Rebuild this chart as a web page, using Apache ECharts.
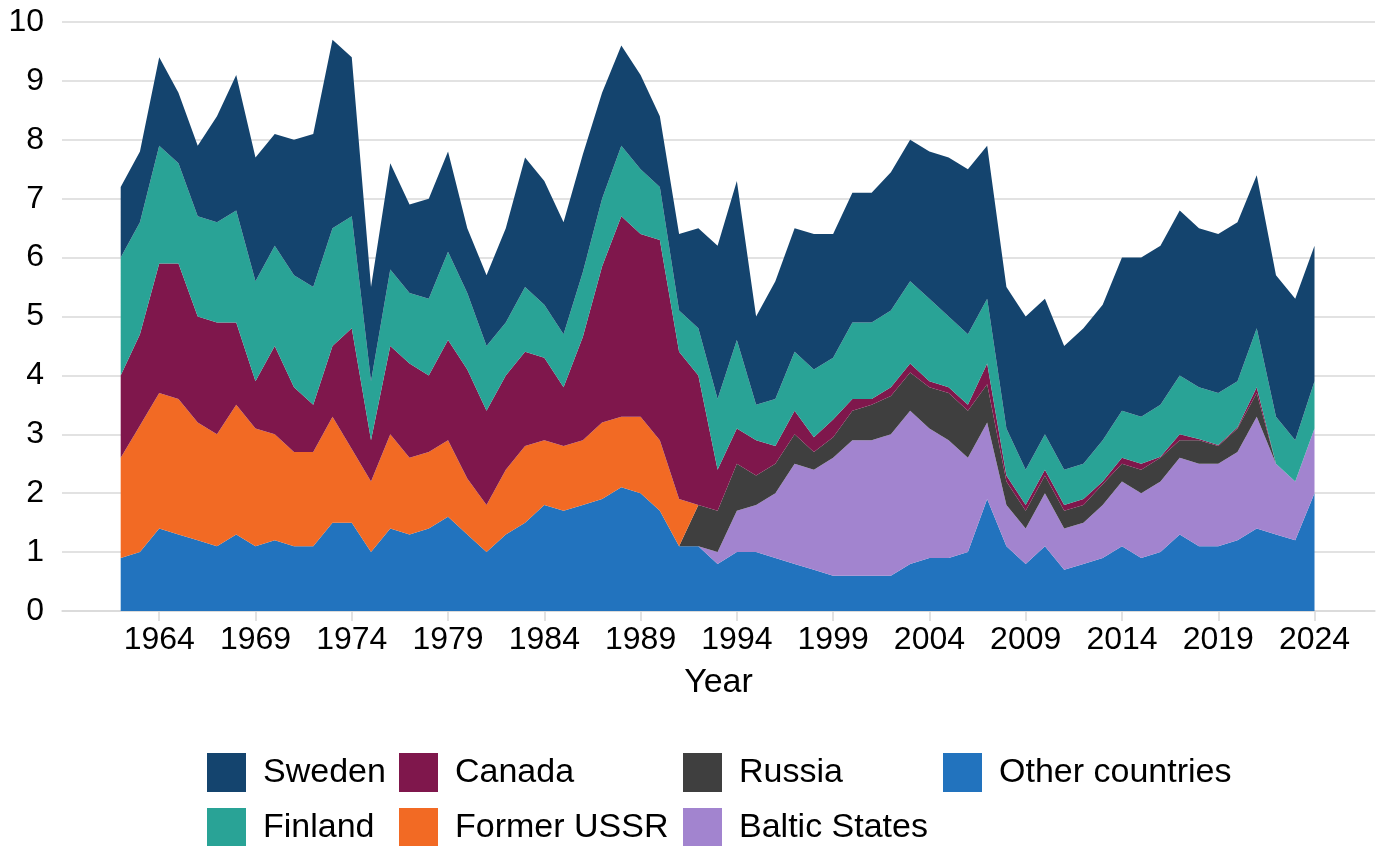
<!DOCTYPE html>
<html>
<head>
<meta charset="utf-8">
<script src="https://cdn.jsdelivr.net/npm/echarts@6/dist/echarts.min.js"></script>
<style>
  html, body { margin: 0; padding: 0; background: #fff; }
  #chart { width: 1382px; height: 846px; }
</style>
</head>
<body>
<div id="chart"></div>
<script>
// years on the x axis
var years = [];
for (var y = 1962; y <= 2024; y++) years.push(String(y));

// x labels shown every 5 years
var yearTicks = [1964, 1969, 1974, 1979, 1984, 1989, 1994, 1999, 2004, 2009, 2014, 2019, 2024];

// series values, 1962..2024
var otherCountries = [0.9, 1.0, 1.4, 1.3, 1.2, 1.1, 1.3, 1.1, 1.2, 1.1,
  1.1, 1.5, 1.5, 1.0, 1.4, 1.3, 1.4, 1.6, 1.3, 1.0,
  1.3, 1.5, 1.8, 1.7, 1.8, 1.9, 2.1, 2.0, 1.7, 1.1,
  1.1, 0.8, 1.0, 1.0, 0.9, 0.8, 0.7, 0.6, 0.6, 0.6,
  0.6, 0.8, 0.9, 0.9, 1.0, 1.9, 1.1, 0.8, 1.1, 0.7,
  0.8, 0.9, 1.1, 0.9, 1.0, 1.3, 1.1, 1.1, 1.2, 1.4,
  1.3, 1.2, 2.0];
var balticStates = [0, 0, 0, 0, 0, 0, 0, 0, 0, 0,
  0, 0, 0, 0, 0, 0, 0, 0, 0, 0,
  0, 0, 0, 0, 0, 0, 0, 0, 0, 0,
  0, 0.2, 0.7, 0.8, 1.1, 1.7, 1.7, 2.0, 2.3, 2.3,
  2.4, 2.6, 2.2, 2.0, 1.6, 1.3, 0.7, 0.6, 0.9, 0.7,
  0.7, 0.9, 1.1, 1.1, 1.2, 1.3, 1.4, 1.4, 1.5, 1.9,
  1.2, 1.0, 1.1];
var russia = [0, 0, 0, 0, 0, 0, 0, 0, 0, 0,
  0, 0, 0, 0, 0, 0, 0, 0, 0, 0,
  0, 0, 0, 0, 0, 0, 0, 0, 0, 0,
  0.7, 0.7, 0.8, 0.5, 0.5, 0.5, 0.3, 0.35, 0.5, 0.6,
  0.65, 0.65, 0.7, 0.8, 0.8, 0.65, 0.4, 0.3, 0.3, 0.3,
  0.3, 0.35, 0.3, 0.4, 0.4, 0.3, 0.4, 0.3, 0.4, 0.4,
  0, 0, 0];
var formerUSSR = [1.7, 2.15, 2.3, 2.3, 2.0, 1.9, 2.2, 2.0, 1.8, 1.6,
  1.6, 1.8, 1.25, 1.2, 1.6, 1.3, 1.3, 1.3, 0.95, 0.8,
  1.1, 1.3, 1.1, 1.1, 1.1, 1.3, 1.2, 1.3, 1.2, 0.8,
  0, 0, 0, 0, 0, 0, 0, 0, 0, 0,
  0, 0, 0, 0, 0, 0, 0, 0, 0, 0,
  0, 0, 0, 0, 0, 0, 0, 0, 0, 0,
  0, 0, 0];
var canada = [1.4, 1.55, 2.2, 2.3, 1.8, 1.9, 1.4, 0.8, 1.5, 1.1,
  0.8, 1.2, 2.05, 0.7, 1.5, 1.6, 1.3, 1.7, 1.85, 1.6,
  1.6, 1.6, 1.4, 1.0, 1.75, 2.65, 3.4, 3.1, 3.4, 2.5,
  2.2, 0.7, 0.6, 0.6, 0.3, 0.4, 0.25, 0.3, 0.2, 0.1,
  0.15, 0.15, 0.1, 0.1, 0.1, 0.35, 0.1, 0.1, 0.1, 0.1,
  0.1, 0.05, 0.1, 0.1, 0.02, 0.1, 0.02, 0.02, 0.02, 0.1,
  0, 0, 0];
var finland = [2.0, 1.9, 2.0, 1.7, 1.7, 1.7, 1.9, 1.7, 1.7, 1.9,
  2.0, 2.0, 1.9, 1.0, 1.3, 1.2, 1.3, 1.5, 1.3, 1.1,
  0.9, 1.1, 0.9, 0.9, 1.1, 1.15, 1.2, 1.1, 0.9, 0.7,
  0.8, 1.2, 1.5, 0.6, 0.8, 1.0, 1.15, 1.05, 1.3, 1.3,
  1.3, 1.4, 1.4, 1.2, 1.2, 1.1, 0.8, 0.6, 0.6, 0.6,
  0.6, 0.7, 0.8, 0.8, 0.88, 1.0, 0.88, 0.88, 0.78, 1.0,
  0.8, 0.7, 0.8];
var sweden = [1.2, 1.2, 1.5, 1.2, 1.2, 1.8, 2.3, 2.1, 1.9, 2.3,
  2.6, 3.2, 2.7, 1.6, 1.8, 1.5, 1.7, 1.7, 1.1, 1.2,
  1.6, 2.2, 2.1, 1.9, 2.0, 1.8, 1.7, 1.6, 1.2, 1.3,
  1.7, 2.6, 2.7, 1.5, 2.0, 2.1, 2.3, 2.1, 2.2, 2.2,
  2.35, 2.4, 2.5, 2.7, 2.8, 2.6, 2.4, 2.6, 2.3, 2.1,
  2.3, 2.3, 2.6, 2.7, 2.7, 2.8, 2.7, 2.7, 2.7, 2.6,
  2.4, 2.4, 2.3];

// stacking order, bottom first
var seriesNames = ['Other countries', 'Baltic States', 'Russia', 'Former USSR', 'Canada', 'Finland', 'Sweden'];
var seriesValues = [otherCountries, balticStates, russia, formerUSSR, canada, finland, sweden];
var seriesColors = ['#2273BE', '#A284CF', '#3F3F3F', '#F26A24', '#7F174C', '#29A396', '#14446E'];

var FONT = 'Liberation Sans, Arial, sans-serif';
var GRID_COLOR = '#D9D9D9';

var chart = echarts.init(document.getElementById('chart'), null, { renderer: 'canvas' });

// build the series (drawn in the inner grid, category axis)
var series = [];
for (var i = 0; i < seriesNames.length; i++) {
  series.push({
    name: seriesNames[i],
    type: 'line',
    stack: 'total',
    xAxisIndex: 1,
    yAxisIndex: 1,
    data: seriesValues[i],
    showSymbol: false,
    symbol: 'none',
    lineStyle: { width: 0 },
    itemStyle: { color: seriesColors[i] },
    areaStyle: { color: seriesColors[i], opacity: 1 },
    emphasis: { disabled: true }
  });
}

// one legend per item so the columns line up like the picture
function legendItem(left, top, name) {
  return {
    left: left,
    top: top,
    padding: 0,
    itemWidth: 39,
    itemHeight: 39,
    icon: 'rect',
    selectedMode: false,
    data: [name],
    textStyle: {
      fontFamily: FONT,
      fontSize: 34,
      color: '#000',
      padding: [0, 0, 0, 12]
    }
  };
}

var option = {
  animation: false,
  backgroundColor: '#fff',
  // grid 0: gridlines, ticks and labels, grid 1: the areas
  grid: [
    { left: 62, right: 7, top: 22, bottom: 235 },
    { left: 120.7, right: 67.5, top: 22, bottom: 235 }
  ],
  legend: [
    legendItem(207, 753, 'Sweden'),
    legendItem(207, 808, 'Finland'),
    legendItem(399, 753, 'Canada'),
    legendItem(399, 808, 'Former USSR'),
    legendItem(683, 753, 'Russia'),
    legendItem(683, 808, 'Baltic States'),
    legendItem(943, 753, 'Other countries')
  ],
  xAxis: [{
    type: 'value',
    gridIndex: 0,
    min: 1958.95,
    max: 2027.14,
    name: 'Year',
    nameLocation: 'middle',
    nameGap: 55,
    nameTextStyle: { fontFamily: FONT, fontSize: 34, color: '#000' },
    splitLine: { show: false },
    axisLine: { show: true, lineStyle: { color: GRID_COLOR, width: 1.5 } },
    axisTick: {
      show: true,
      customValues: yearTicks,
      length: 10,
      lineStyle: { color: GRID_COLOR, width: 1.5 }
    },
    axisLabel: {
      customValues: yearTicks,
      margin: 13,
      fontFamily: FONT,
      fontSize: 32,
      color: '#000',
      formatter: function (v) { return String(v); }
    }
  }, {
    type: 'category',
    gridIndex: 1,
    data: years,
    boundaryGap: false,
    show: false
  }],
  yAxis: [{
    type: 'value',
    gridIndex: 0,
    min: 0,
    max: 10,
    interval: 1,
    axisLine: { show: false },
    axisTick: { show: false },
    splitLine: { lineStyle: { color: GRID_COLOR, width: 1.5 } },
    axisLabel: {
      margin: 18,
      fontFamily: FONT,
      fontSize: 32,
      color: '#000'
    }
  }, {
    type: 'value',
    gridIndex: 1,
    min: 0,
    max: 10,
    interval: 1,
    show: false,
    splitLine: { show: false }
  }],
  series: series
};

chart.setOption(option);
</script>
</body>
</html>
